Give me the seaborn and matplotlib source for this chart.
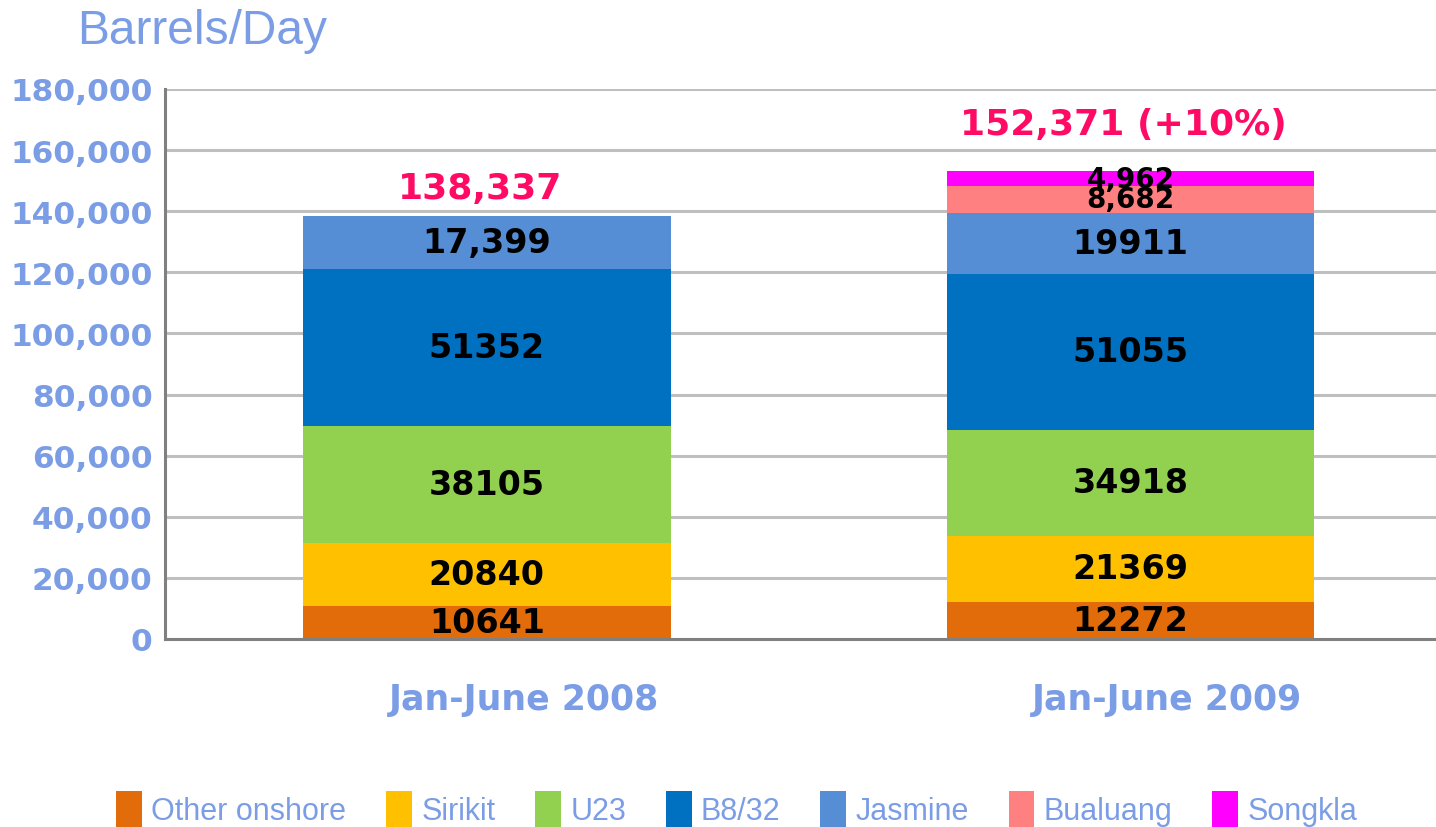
import numpy as np
import pandas as pd
import matplotlib
matplotlib.use("Agg")
import matplotlib.pyplot as plt
from matplotlib.patches import Patch
from matplotlib.transforms import ScaledTranslation
import seaborn as sns

# ---- data ----
periods = ["Jan-June 2008", "Jan-June 2009"]
fields = ["Other onshore", "Sirikit", "U23", "B8/32", "Jasmine", "Bualuang", "Songkla"]
other_onshore = [10641, 12272]
sirikit = [20840, 21369]
u23 = [38105, 34918]
b8_32 = [51352, 51055]
jasmine = [17399, 19911]
bualuang = [0, 8682]
songkla = [0, 4962]
segment_labels = [
    ["10641", "12272"],
    ["20840", "21369"],
    ["38105", "34918"],
    ["51352", "51055"],
    ["17,399", "19911"],
    ["", "8,682"],
    ["", "4,962"],
]
total_labels = ["138,337", "152,371 (+10%)"]
y_ticks = [0, 20000, 40000, 60000, 80000, 100000, 120000, 140000, 160000, 180000]
colors = ["#E36C0A", "#FFC000", "#92D050", "#0070C0", "#558ED5", "#FF8080", "#FF00FF"]

series = [other_onshore, sirikit, u23, b8_32, jasmine, bualuang, songkla]

LABEL_BLUE = "#7B9DE6"
PINK = "#FF0A64"

sns.set_theme(style="white")
plt.rcParams["font.family"] = ["DejaVu Sans"]

fig = plt.figure(figsize=(14.36, 8.28), dpi=100)
ax = fig.add_axes([165 / 1436, 188 / 828, 1271 / 1436, 550 / 828])

bottom = np.zeros(len(periods))
for name, vals, col, labs in zip(fields, series, colors, segment_labels):
    vals = np.array(vals, dtype=float)
    df = pd.DataFrame({"period": periods, "value": vals})
    sns.barplot(data=df, x="period", y="value", bottom=bottom, color=col,
                width=0.571, errorbar=None, ax=ax, linewidth=0, saturation=1)
    for i, (v, lab) in enumerate(zip(vals, labs)):
        if v > 0 and lab:
            small = v < 10000
            ax.text(i, bottom[i] + v / 2, lab, ha="center", va="center",
                    fontsize=20 if small else 24, fontweight="bold", color="black")
    bottom = bottom + vals

# total labels above the bars
offsets = [28, 47]
for i, (lab, off) in enumerate(zip(total_labels, offsets)):
    ax.annotate(lab, xy=(i, bottom[i]), xytext=(-5, off * 0.72), textcoords="offset points",
                ha="center", va="center", fontsize=26, fontweight="bold", color=PINK)

ax.set_xlim(-0.5, 1.475)
ax.set_ylim(0, 180000)
ax.set_yticks(y_ticks)
ax.set_yticklabels([f"{t:,}" for t in y_ticks])
ax.set_xlabel("")
ax.set_ylabel("")

ax.grid(axis="y", color="#BFBFBF", linewidth=2.2)
ax.set_axisbelow(True)
for s in ["top", "right"]:
    ax.spines[s].set_visible(False)
for s in ["left", "bottom"]:
    ax.spines[s].set_color("#808080")
    ax.spines[s].set_linewidth(2.2)

ax.tick_params(axis="y", length=0, pad=9, labelsize=22.5, labelcolor=LABEL_BLUE)
ax.tick_params(axis="x", length=0, pad=31, labelsize=25, labelcolor=LABEL_BLUE)
for t in ax.get_yticklabels():
    t.set_fontweight("bold")
for t in ax.get_xticklabels():
    t.set_fontweight("bold")
    t.set_transform(t.get_transform() + ScaledTranslation(0.37, 0, fig.dpi_scale_trans))

fig.text(77 / 1436, 1 - 31 / 828, "Barrels/Day", ha="left", va="center",
         fontsize=34.5, color=LABEL_BLUE, family="Liberation Sans")

handles = [Patch(facecolor=c, edgecolor="none") for c in colors]
leg = fig.legend(handles, fields, ncol=7, loc="center", bbox_to_anchor=(0.513, 1 - 810 / 828),
                 frameon=False, handlelength=0.85, handleheight=1.4, handletextpad=0.3,
                 columnspacing=1.3, prop={"family": "Liberation Sans", "size": 22})
for t in leg.get_texts():
    t.set_color(LABEL_BLUE)

fig.savefig("out.png", dpi=100)
